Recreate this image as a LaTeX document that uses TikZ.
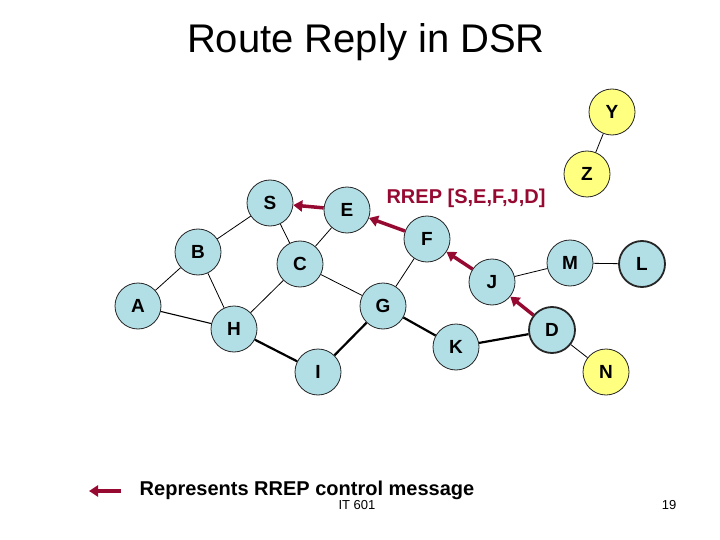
\documentclass[tikz,border=0pt]{standalone}
\usepackage{fontspec}
\setmainfont{Liberation Sans}
\usetikzlibrary{arrows.meta}
\definecolor{nodeblue}{RGB}{178,222,230}
\definecolor{nodeyellow}{RGB}{255,255,128}
\definecolor{rrepred}{RGB}{150,10,50}
\begin{document}
\begin{tikzpicture}[x=1pt,y=-1pt,
  netnode/.style={circle,draw=black!85,line width=0.8pt,fill=nodeblue,minimum size=46pt,inner sep=0pt,font=\fontsize{19}{19}\selectfont\bfseries},
  ynode/.style={netnode,fill=nodeyellow},
  boldnode/.style={line width=1.8pt},
  link/.style={draw=black,line width=0.8pt},
  thicklink/.style={draw=black,line width=2.2pt},
  rrep/.style={draw=rrepred,line width=3.5pt,-{Triangle[length=9pt,width=11pt]}}]
\useasboundingbox (0,0) rectangle (720,540);
\node (title) at (366,42) {\fontsize{40}{40}\selectfont Route Reply in DSR};
% nodes
\node[ynode] (Y) at (612,112) {Y};
\node[ynode] (Z) at (587,174) {Z};
\node[netnode] (S) at (270,203) {S};
\node[netnode] (E) at (347,210) {E};
\node[netnode] (F) at (427,239) {F};
\node[netnode] (B) at (198,252) {B};
\node[netnode] (C) at (300,264) {C};
\node[netnode] (J) at (492,282) {J};
\node[netnode] (M) at (570,263) {M};
\node[netnode,boldnode] (L) at (642,264) {L};
\node[netnode] (A) at (138,306) {A};
\node[netnode] (G) at (383,306) {G};
\node[netnode] (H) at (234,329) {H};
\node[netnode,boldnode] (D) at (552,330) {D};
\node[netnode] (K) at (456,347) {K};
\node[netnode] (I) at (318,372) {I};
\node[ynode] (N) at (606,372) {N};
% links
\draw[link] (Y) -- (Z);
\draw[link] (S) -- (B);
\draw[link] (S) -- (C);
\draw[link] (E) -- (C);
\draw[link] (B) -- (A);
\draw[link] (B) -- (H);
\draw[link,line width=1.1pt] (A) -- (H);
\draw[link] (C) -- (H);
\draw[link] (C) -- (G);
\draw[link] (G) -- (F);
\draw[link] (J) -- (M);
\draw[link] (M) -- (L);
\draw[link] (D) -- (N);
\draw[thicklink] (H) -- (I);
\draw[thicklink] (I) -- (G);
\draw[thicklink] (G) -- (K);
\draw[thicklink] (K) -- (D);
% RREP arrows
\draw[rrep] (E) -- (S);
\draw[rrep] (F) -- (E);
\draw[rrep] (J) -- (F);
\draw[rrep] (D) -- (J);
\node[text=rrepred,font=\fontsize{20}{20}\selectfont\bfseries] (lbl) at (466,198) {RREP [S,E,F,J,D]};
% legend
\coordinate (legA) at (121,491);
\coordinate (legB) at (89,491);
\draw[rrep] (legA) -- (legB);
\node[font=\fontsize{20}{20}\selectfont\bfseries] (leg) at (307,490) {Represents RREP control message};
\node[font=\fontsize{13}{13}\selectfont] (it) at (357,505) {IT 601};
\node[font=\fontsize{13}{13}\selectfont] (pg) at (669,505) {19};
\end{tikzpicture}
\end{document}
